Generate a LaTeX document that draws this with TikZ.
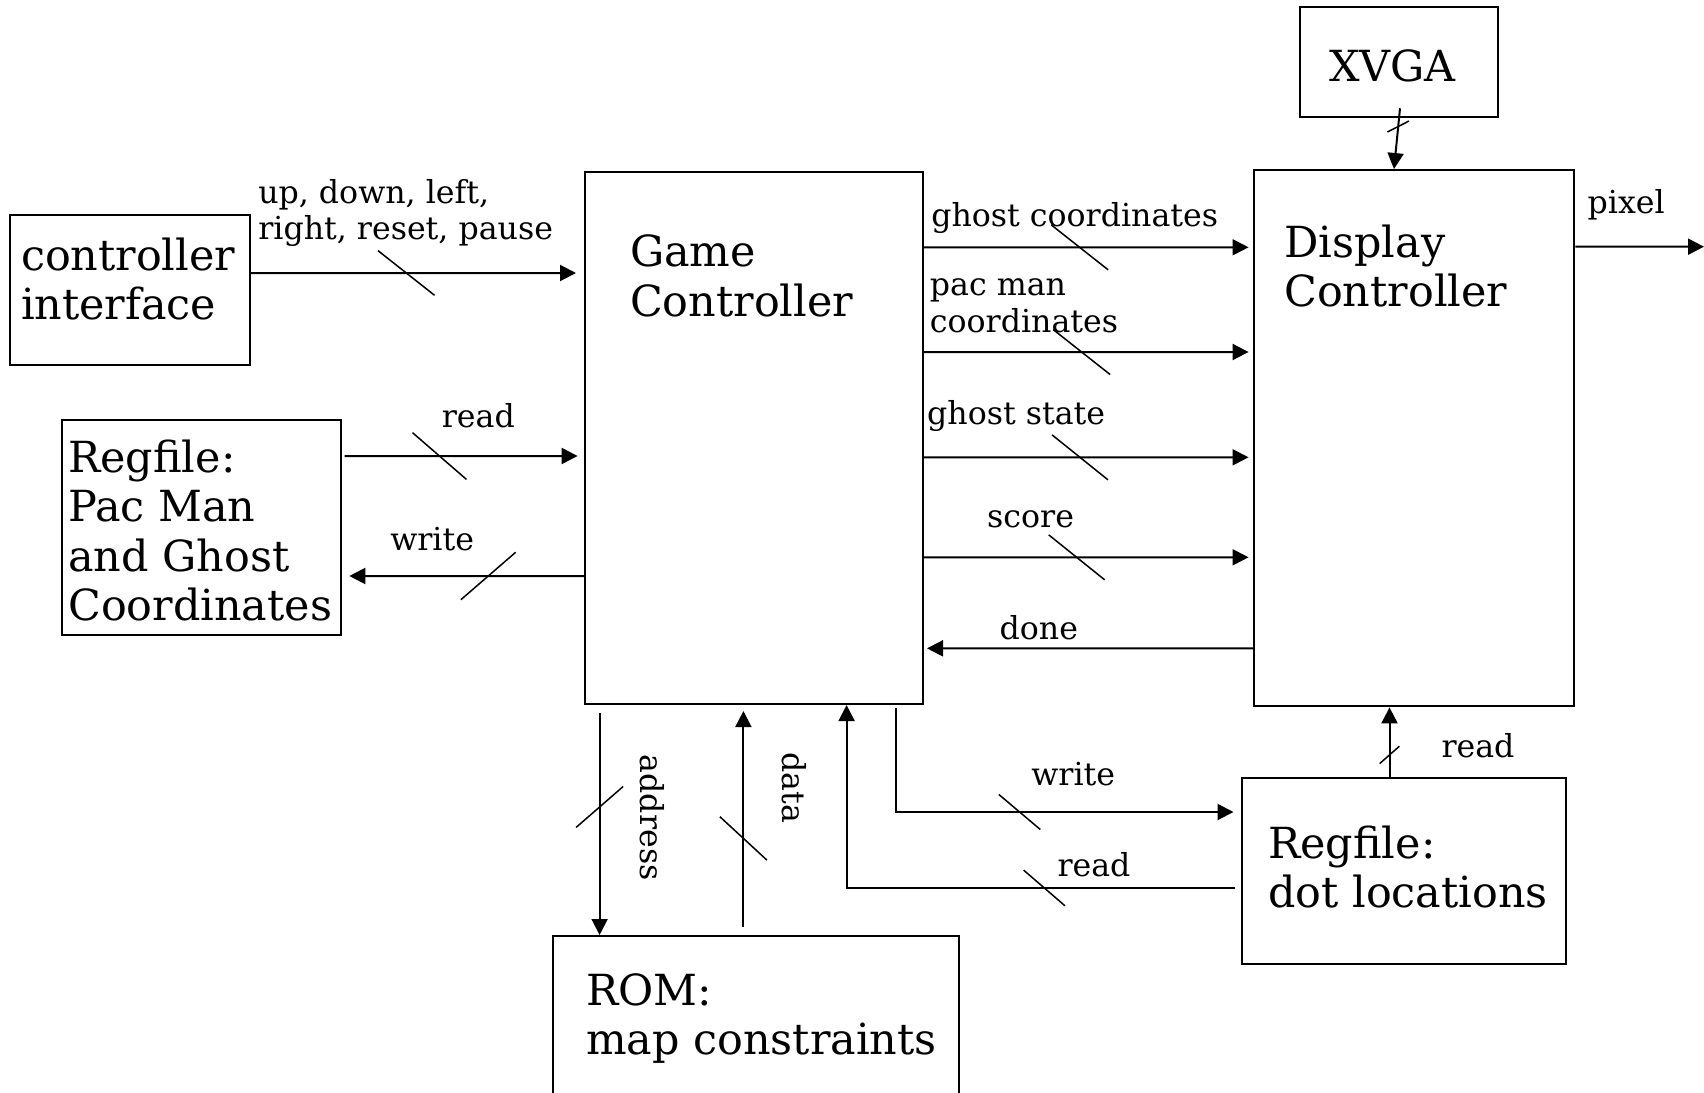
\documentclass[tikz,border=0pt]{standalone}
\usepackage{fontspec}
\setmainfont{DejaVu Serif}
\usepackage{tikz}
\usetikzlibrary{arrows.meta,positioning,calc}

\begin{document}
\begin{tikzpicture}[x=0.1mm, y=-0.1mm, every node/.style={font=\fontsize{9}{10.5}\selectfont}]
    \tikzstyle{block}=[draw,line width=0.2mm,inner sep=0pt]
    \tikzstyle{blocktext}=[anchor=north west,inner sep=0pt,align=left,font=\fontsize{12.2}{14}\selectfont]
    \tikzstyle{bus}=[-{Triangle[length=1.6mm,width=1.6mm]},line width=0.2mm]
    \tikzstyle{markline}=[-,shorten >=0pt,shorten <=0pt,line width=0.15mm]
    \tikzstyle{lbl}=[inner sep=0pt,align=left]
    \tikzset{pics/busmark/.style 2 args={code={\draw[markline] (#1:#2) -- (#1+180:#2);}}}
    \useasboundingbox (0,0) rectangle (1704,1093);

    % blocks
    \node[block,minimum width=23.96mm,minimum height=15mm,label={[blocktext,xshift=1.1mm,yshift=-2.3mm]north west:{controller\\interface}}] (ctrl) at (130.1,290) {};
    \node[block,minimum width=27.86mm,minimum height=21.5mm,label={[blocktext,xshift=0.65mm,yshift=-2.05mm]north west:{Regfile:\\Pac Man\\and Ghost\\Coordinates}}] (regpac) at (201.3,527.5) {};
    \node[block,minimum width=33.76mm,minimum height=53.17mm,label={[blocktext,xshift=4.5mm,yshift=-6.3mm]north west:{Game\\Controller}}] (gc) at (754.2,438.2) {};
    \node[block,minimum width=32.03mm,minimum height=53.64mm,label={[blocktext,xshift=3.05mm,yshift=-5.5mm]north west:{Display\\Controller}}] (disp) at (1414.2,438.2) {};
    \node[block,minimum width=19.77mm,minimum height=11mm,label={[blocktext,xshift=2.95mm,yshift=-4.3mm]north west:XVGA}] (xvga) at (1398.8,61.7) {};
    \node[block,minimum width=32.48mm,minimum height=18.6mm,label={[blocktext,xshift=2.7mm,yshift=-4.8mm]north west:{Regfile:\\dot locations}}] (regdot) at (1403.9,871.3) {};
    \node[block,minimum width=40.62mm,minimum height=20mm,label={[blocktext,xshift=3.4mm,yshift=-3.8mm]north west:{ROM:\\map constraints}}] (rom) at (755.7,1036) {};
    \coordinate (screen) at (1704,246.7);

    % inputs of the game controller
    \draw[bus,shorten >=0.84mm] ([yshift=1.7mm]ctrl.east) -- pic[pos=.466]{busmark={38.3}{36}} node[lbl,pos=.464,above=2.5mm]{up, down, left,\\right, reset, pause} ([yshift=16.52mm]gc.west);
    \draw[bus,shorten <=0.3mm,shorten >=0.68mm] ([yshift=7.15mm]regpac.east) -- pic[pos=.403]{busmark={40.9}{35.7}} node[lbl,pos=.563,above=2.75mm]{read} ([yshift=-1.78mm]gc.west);
    \draw[bus,shorten >=0.77mm] ([yshift=-13.78mm]gc.west) -- pic[pos=.396]{busmark={-40.9}{36.2}} node[lbl,pos=.627,above=2.4mm]{write} ([yshift=-4.85mm]regpac.east);

    % outputs to the display controller
    \draw[bus,shorten >=0.45mm] ([yshift=-7.6mm]gc.north east) -- pic[pos=.473]{busmark={38.3}{36.3}} node[lbl,pos=.458,above=1.3mm]{ghost coordinates} ([yshift=-7.83mm]disp.north west);
    \draw[bus,shorten >=0.45mm] ([yshift=-18.07mm]gc.north east) -- pic[pos=.479]{busmark={38.3}{36.3}} node[lbl,pos=.304,above=1.8mm]{pac man\\coordinates} ([yshift=-18.3mm]disp.north west);
    \draw[bus,shorten >=0.45mm] ([yshift=-28.6mm]gc.north east) -- pic[pos=.474]{busmark={38.8}{35.9}} node[lbl,pos=.28,above=2.45mm]{ghost state} ([yshift=-28.83mm]disp.north west);
    \draw[bus,shorten >=0.45mm] ([yshift=-38.6mm]gc.north east) -- pic[pos=.464]{busmark={38.8}{35.9}} node[lbl,pos=.324,above=2.8mm]{score} ([yshift=-38.83mm]disp.north west);
    \draw[bus,shorten >=0.3mm] ([yshift=-47.93mm]disp.north west) -- node[lbl,pos=.651,above=0.75mm]{done} ([yshift=-47.7mm]gc.north east);

    % display side
    \draw[bus] ([xshift=0.12mm,yshift=0.94mm]xvga.south) -- pic[pos=.3]{busmark={-27}{12.1}} ([xshift=-2.02mm]disp.north);
    \draw[bus] ([yshift=19.15mm]disp.east) -- node[lbl,pos=.395,above=2.6mm]{pixel} (screen);

    % memories
    \draw[bus] ([xshift=-15.46mm,yshift=-0.77mm]gc.south) coordinate (adr) -- pic[pos=.424]{busmark={-41}{31.2}} node[lbl,pos=.472,xshift=5.3mm,rotate=-90]{address} (adr |- rom.north);
    \draw[bus,shorten >=0.6mm] ([xshift=-1.23mm,yshift=0.77mm]rom.north) coordinate (dat) -- pic[pos=.4]{busmark={42.7}{32}} node[lbl,pos=.628,xshift=5.06mm,rotate=-90]{data} (dat |- gc.south);
    \draw[bus,shorten >=0.7mm] ([xshift=14.22mm,yshift=-0.33mm]gc.south) |- pic[pos=.679]{busmark={40.2}{27.1}} node[lbl,pos=.757,above=2.5mm]{write} ([yshift=5.93mm]regdot.west);
    \draw[bus,shorten <=0.55mm] ([yshift=-1.67mm]regdot.west) -| pic[pos=.249]{busmark={40.8}{27.3}} node[lbl,pos=.186,above=1mm]{read} ([xshift=9.24mm]gc.south);
    \draw[bus] ([xshift=-1.44mm]regdot.north) coordinate (rdd) -- pic[pos=.32]{busmark={-41.4}{13.1}} node[lbl,pos=.45,right=5.1mm]{read} (rdd |- disp.south);
\end{tikzpicture}
\end{document}
